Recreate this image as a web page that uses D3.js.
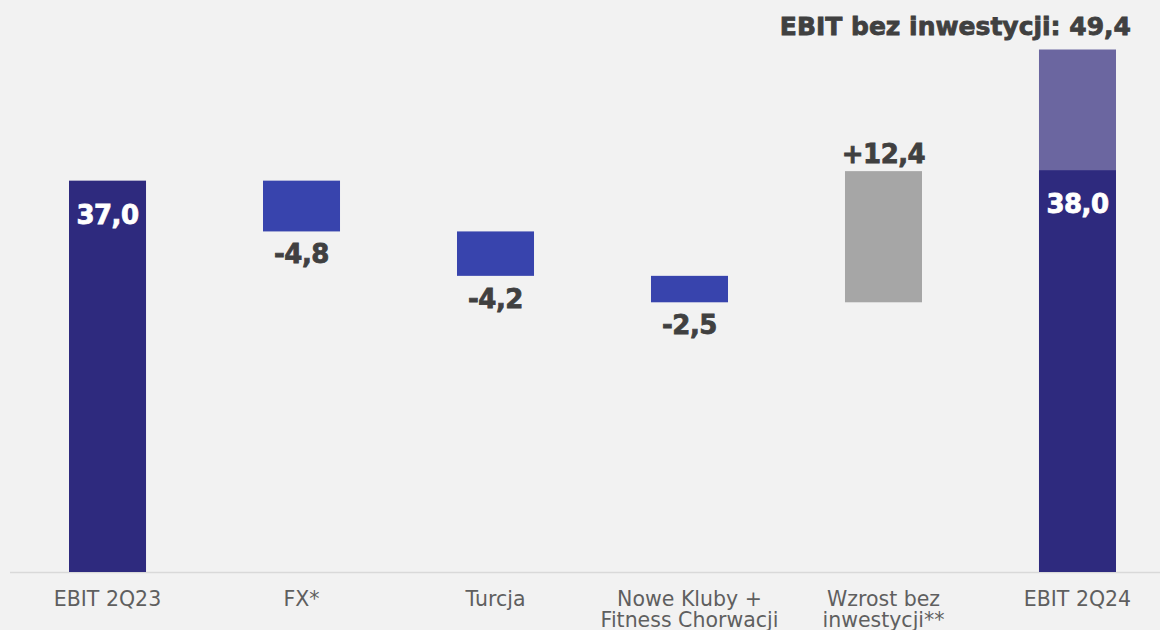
<!DOCTYPE html>
<html>
<head>
<meta charset="utf-8">
<script src="https://cdn.jsdelivr.net/npm/d3@7"></script>
<style>
  body { margin: 0; background: #f2f2f2; }
  svg { display: block; }
</style>
</head>
<body>
<div id="chart"></div>
<script>
// waterfall: EBIT 2Q23 -> EBIT 2Q24
const categories = ["EBIT 2Q23", "FX*", "Turcja", "Nowe Kluby +\nFitness Chorwacji", "Wzrost bez\ninwestycji**", "EBIT 2Q24"]
const deltas = [37.0, -4.8, -4.2, -2.5, 12.4, null]
const totals = [37.0, null, null, null, null, 38.0]
const investExtra = 49.4 // EBIT bez inwestycji
const labels = ["37,0", "-4,8", "-4,2", "-2,5", "+12,4", "38,0"]
const titleText = "EBIT bez inwestycji: 49,4"

const colors = { total: "#2e2a7e", neg: "#3844ad", pos: "#a6a6a6", extra: "#6b66a0" }

const width = 1160, height = 630
const baseline = 572

// build the bar steps
let running = 0
const bars = categories.map((c, i) => {
    if (totals[i] !== null) {
        running = totals[i]
        return { cat: c, y0: 0, y1: totals[i], type: "total", label: labels[i] }
    }
    const start = running
    running = start + deltas[i]
    return { cat: c, y0: Math.min(start, running), y1: Math.max(start, running), type: deltas[i] < 0 ? "neg" : "pos", label: labels[i] }
})

const svg = d3.select("#chart").append("svg")
    .attr("width", width)
    .attr("height", height)

svg.append("rect").attr("width", width).attr("height", height).attr("fill", "#f2f2f2")

const x = d3.scaleBand()
    .domain(categories)
    .range([0, 1185])
    .paddingInner(0.603)
    .paddingOuter(0.3557)

const y = d3.scaleLinear()
    .domain([0, 49.4])
    .range([baseline, 49.5])

// axis line
svg.append("line")
    .attr("x1", 10).attr("x2", width)
    .attr("y1", baseline + 0.5).attr("y2", baseline + 0.5)
    .attr("stroke", "#d9d9d9").attr("stroke-width", 1.5)

// extra part on top of last bar
svg.append("rect")
    .attr("x", x(categories[5]))
    .attr("width", x.bandwidth())
    .attr("y", y(investExtra))
    .attr("height", y(totals[5]) - y(investExtra))
    .attr("fill", colors.extra)

svg.selectAll(".bar")
    .data(bars)
    .join("rect")
    .attr("class", "bar")
    .attr("x", d => x(d.cat))
    .attr("width", x.bandwidth())
    .attr("y", d => y(d.y1))
    .attr("height", d => y(d.y0) - y(d.y1))
    .attr("fill", d => colors[d.type])

// value labels
svg.selectAll(".val")
    .data(bars)
    .join("text")
    .attr("class", "val")
    .attr("x", d => x(d.cat) + x.bandwidth() / 2)
    .attr("y", d => d.type === "total" ? y(d.y1) + 43 : d.type === "neg" ? y(d.y0) + 32 : y(d.y1) - 8)
    .attr("text-anchor", "middle")
    .attr("font-family", "DejaVu Sans")
    .attr("font-weight", "bold")
    .attr("font-size", 26)
    .attr("letter-spacing", -0.5)
    .attr("fill", d => d.type === "total" ? "#ffffff" : "#404040")
    .attr("stroke", d => d.type === "total" ? "#ffffff" : "#404040")
    .attr("stroke-width", 0.8)
    .text(d => d.label)

svg.append("text")
    .attr("x", 1131)
    .attr("y", 35)
    .attr("text-anchor", "end")
    .attr("font-family", "DejaVu Sans")
    .attr("font-weight", "bold")
    .attr("font-size", 25)
    .attr("fill", "#404040")
    .attr("stroke", "#404040")
    .attr("stroke-width", 0.8)
    .text(titleText)

// category labels
const catText = svg.selectAll(".cat")
    .data(categories)
    .join("text")
    .attr("class", "cat")
    .attr("x", d => x(d) + x.bandwidth() / 2)
    .attr("y", 606)
    .attr("text-anchor", "middle")
    .attr("font-family", "DejaVu Sans")
    .attr("font-size", 20.5)
    .attr("fill", "#5f5f5f")

catText.selectAll("tspan")
    .data(d => d.split("\n"))
    .join("tspan")
    .attr("x", function () { return this.parentNode.getAttribute("x") })
    .attr("dy", (d, i) => i === 0 ? 0 : 21)
    .text(d => d)
</script>
</body>
</html>
